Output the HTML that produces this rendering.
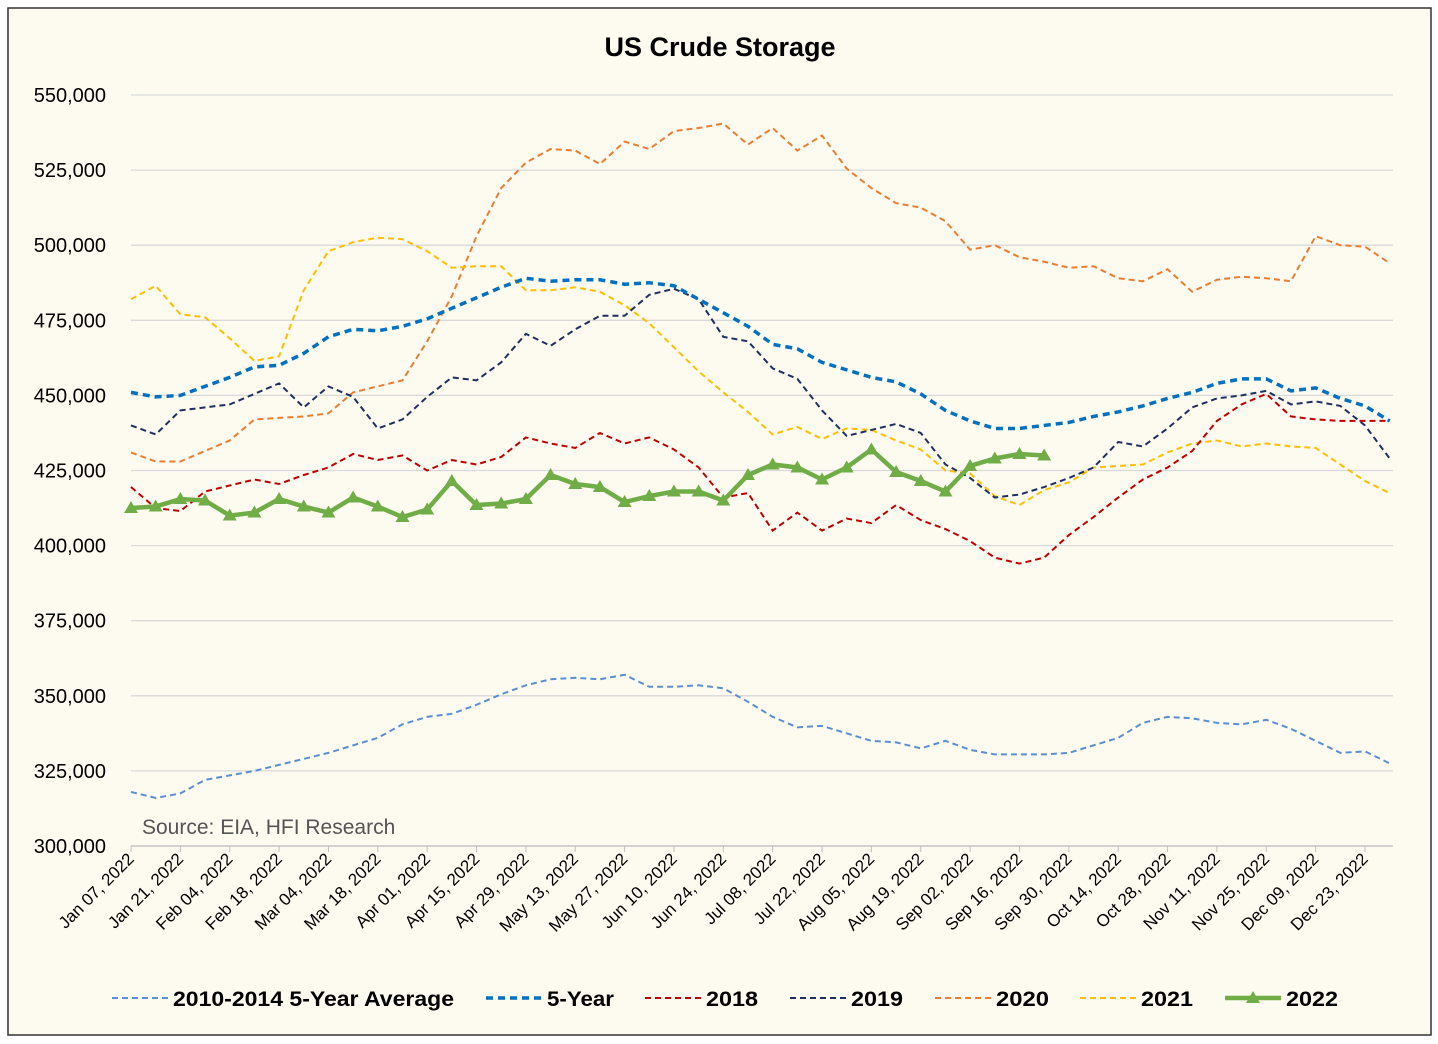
<!DOCTYPE html>
<html><head><meta charset="utf-8">
<style>
html,body{margin:0;padding:0;background:#fff;}
svg{display:block;font-family:"Liberation Sans",sans-serif;}
</style></head>
<body>
<svg id="chart" width="1438" height="1044" viewBox="0 0 1438 1044">
<rect x="8" y="8" width="1423" height="1027" fill="#fdfaf0" stroke="#333" stroke-width="1.5"/>
<text x="720" y="56" text-anchor="middle" font-size="27" font-weight="bold" fill="#000">US Crude Storage</text>
<g id="grid"></g>
<g id="series"></g>
<g id="xaxis"></g>
<text x="142" y="834" font-size="21" fill="#555">Source: EIA, HFI Research</text>
<g id="legend"></g>
</svg>
<script>
const yTicks=[300000,325000,350000,375000,400000,425000,450000,475000,500000,525000,550000];
const xLabels=["Jan 07, 2022","Jan 21, 2022","Feb 04, 2022","Feb 18, 2022","Mar 04, 2022","Mar 18, 2022","Apr 01, 2022","Apr 15, 2022","Apr 29, 2022","May 13, 2022","May 27, 2022","Jun 10, 2022","Jun 24, 2022","Jul 08, 2022","Jul 22, 2022","Aug 05, 2022","Aug 19, 2022","Sep 02, 2022","Sep 16, 2022","Sep 30, 2022","Oct 14, 2022","Oct 28, 2022","Nov 11, 2022","Nov 25, 2022","Dec 09, 2022","Dec 23, 2022"];
const avg1014=[318,316,317.5,322,323.5,325,327,329,331,333.5,336,340.5,343,344,347,350.5,353.5,355.5,356,355.5,357,353,353,353.5,352.5,348,343,339.5,340,337.5,335,334.5,332.5,335,332,330.5,330.5,330.5,331,333.5,336,341,343,342.5,341,340.5,342,339,335,331,331.5,327.5];
const fiveYear=[451,449.5,450,453,456,459.5,460,464,469.5,472,471.5,473,475.5,479,482.5,486,489,488,488.5,488.5,487,487.5,486.5,482,477.5,473,467,465.5,461,458.5,456,454.5,450.5,445,441.5,439,439,440,441,443,444.5,446.5,449,451,454,455.5,455.5,451.5,452.5,449,446.5,441.5];
const y2018=[419.5,412.5,411.5,418,420,422,420.5,423.5,426,430.5,428.5,430,425,428.5,427,429.5,436,434,432.5,437.5,434,436,432,426,416,417.5,405,411,405,409,407.5,413.5,408.5,405.5,401.5,396,394,396,403.5,409.5,416,422,426,431.5,441.5,447,450.5,443,442,441.5,441.5,441.5];
const y2019=[440,437,445,446,447,450.5,454,446,453,449.5,439,442,449.5,456,455,461,470.5,466.5,472,476.5,476.5,483.5,485.5,482,469.5,468,459,455.5,445,436.5,438.5,440.5,437.5,427,422.5,416,417,419.5,422.5,426,434.5,433,439,446,449,450,451.5,447,448,446.5,440,429];
const y2020=[431,428,428,431.5,435,442,442.5,443,444,451,453,455,468,483,503,519,527.5,532,531.5,527,534.5,532,538,539,540.5,533.5,539,531.5,536.5,525.5,519,514,512.5,508,498.5,500,496,494.5,492.5,493,489,488,492,484.5,488.5,489.5,489,488,503,500,499.5,494];
const y2021=[482,486.5,477,476,469,461.5,463,485,498,501,502.5,502,498,492.5,493,493,485,485,486,484.5,480,474,466,458,451,444.5,437,439.5,435.5,439,438.5,435,432,425,424,416.5,413.5,418.5,421,426,426.5,427,431,434,435,433,434,433,432.5,427,421.5,417.5];
const y2022=[412.5,413,415.5,415,410,411,415.5,413,411,416,413,409.5,412,421.5,413.5,414,415.5,423.5,420.5,419.5,414.5,416.5,418,418,415,423.5,427,426,422,426,432,424.5,421.5,418,426.5,429,430.5,430];

const NS="http://www.w3.org/2000/svg";
const X0=131,X1=1393,DX=24.68,Y0=846,Y1=95;
const xs=i=>X0+DX*i;
const ys=v=>Y0-(v-300000)/250000*(Y0-Y1);
function mk(tag,attrs,parent){const e=document.createElementNS(NS,tag);for(const k in attrs)e.setAttribute(k,attrs[k]);parent.appendChild(e);return e;}
const grid=document.getElementById('grid');
yTicks.forEach(t=>{
  const l=mk('line',{x1:X0,x2:X1,y1:ys(t),y2:ys(t),stroke:'#d9d9d9','stroke-width':1.3},grid);
  
  
  const tx=mk('text',{x:106,y:ys(t)+7,'text-anchor':'end','font-size':20,fill:'#000'},grid);
  tx.textContent=t.toLocaleString('en-US');
  
  
});
const xa=document.getElementById('xaxis');
const ax=mk('line',{x1:X0,x2:X1,y1:Y0,y2:Y0,stroke:'#bfbfbf','stroke-width':1.3},xa);


xLabels.forEach((lab,k)=>{
  const x=xs(k*2);
  const tk=mk('line',{x1:x,x2:x,y1:Y0,y2:Y0+6,stroke:'#bfbfbf'},xa);
  
  
  const t=mk('text',{x:x+4,y:Y0+14,'text-anchor':'end','font-size':17,fill:'#000',transform:`rotate(-45 ${x+4} ${Y0+14})`},xa);
  t.textContent=lab;
  
  
});
const sg=document.getElementById('series');
const specs=[
 {d:avg1014,c:'#5b8fd0',w:2,da:'6 4',n:'series-2010-2014-average'},
 {d:y2020,c:'#ed7d31',w:2,da:'6 4',n:'series-2020'},
 {d:y2021,c:'#ffc000',w:2,da:'6 4',n:'series-2021'},
 {d:y2018,c:'#c00000',w:2,da:'6 4',n:'series-2018'},
 {d:y2019,c:'#1f2f5f',w:2,da:'6 4',n:'series-2019'},
 {d:fiveYear,c:'#0070c0',w:3.5,da:'7 5',n:'series-5-year'},
];
specs.forEach(s=>{
  const p=mk('polyline',{points:s.d.map((v,i)=>xs(i)+','+ys(v*1000)).join(' '),fill:'none',stroke:s.c,'stroke-width':s.w,'stroke-dasharray':s.da},sg);
  
  
});
const g22=mk('polyline',{points:y2022.map((v,i)=>xs(i)+','+ys(v*1000)).join(' '),fill:'none',stroke:'#70ad47','stroke-width':4.5},sg);


function tri(x,y,par){return mk('polygon',{points:`${x},${y-7} ${x-7},${y+5} ${x+7},${y+5}`,fill:'#70ad47'},par);}
y2022.forEach((v,i)=>{
  const m=tri(xs(i),ys(v*1000),sg);
  
  
});
const lg=document.getElementById('legend');
const legItems=[
 {x:112,c:'#5b8fd0',w:2,da:'6 4',lab:'2010-2014 5-Year Average',tl:281},
 {x:486,c:'#0070c0',w:3.5,da:'7 5',lab:'5-Year',tl:67},
 {x:645,c:'#c00000',w:2,da:'6 4',lab:'2018',tl:52},
 {x:790,c:'#1f2f5f',w:2,da:'6 4',lab:'2019',tl:52},
 {x:935,c:'#ed7d31',w:2,da:'6 4',lab:'2020',tl:53},
 {x:1080,c:'#ffc000',w:2,da:'6 4',lab:'2021',tl:52},
 {x:1225,c:'#70ad47',w:4.5,da:'',lab:'2022',tl:52},
];
legItems.forEach(it=>{
  const g=mk('g',{},lg);
  
  
  const a={x1:it.x,x2:it.x+56,y1:998,y2:998,stroke:it.c,'stroke-width':it.w};
  if(it.da)a['stroke-dasharray']=it.da;
  mk('line',a,g);
  if(!it.da)tri(it.x+28,998,g);
  const t=mk('text',{x:it.x+61,y:1006,'font-size':21,'font-weight':'bold',fill:'#000',textLength:it.tl,lengthAdjust:'spacingAndGlyphs'},g);
  t.textContent=it.lab;
});
</script>
</body></html>
